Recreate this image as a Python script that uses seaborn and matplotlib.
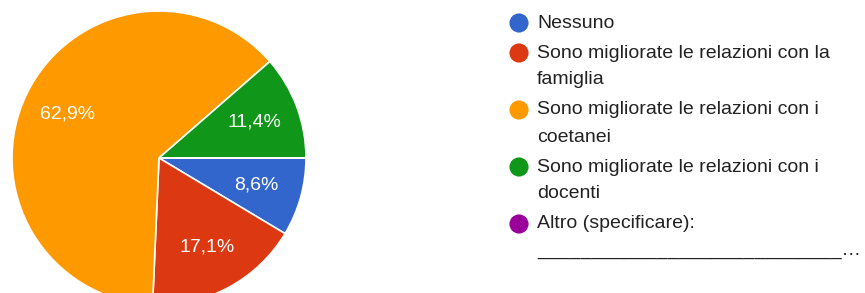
import matplotlib
matplotlib.use("Agg")
import matplotlib.pyplot as plt
import seaborn as sns

categories = [
    "Nessuno",
    "Sono migliorate le relazioni con la\nfamiglia",
    "Sono migliorate le relazioni con i\ncoetanei",
    "Sono migliorate le relazioni con i\ndocenti",
    "Altro (specificare):\n____________________________\u2026",
]
values = [8.6, 17.1, 62.9, 11.4, 0.0]
colors = ["#3366CC", "#DC3912", "#FF9900", "#109618", "#990099"]

sns.set_theme(style="white")
plt.rcParams["font.family"] = ["Liberation Sans", "DejaVu Sans"]

W, H = 865, 293
fig = plt.figure(figsize=(W / 100, H / 100), dpi=100)
ax = fig.add_axes([0, 0, 1, 1])

def fmt(p):
    return "" if p < 0.05 else f"{p:.1f}".replace(".", ",") + "%"

wedges, texts, autotexts = ax.pie(
    values, colors=colors, startangle=0, counterclock=False,
    center=(159, H - 158), radius=147, autopct=fmt, pctdistance=0.69,
    wedgeprops=dict(edgecolor="white", linewidth=1.2),
    textprops=dict(color="white", fontsize=14), frame=False,
)
ax.set_xlim(0, W)
ax.set_ylim(0, H)
ax.set_aspect("equal")
ax.axis("off")

# legend (manual, first-line aligned markers)
y = 23
for lab, col in zip(categories, colors):
    lines = lab.split("\n")
    ax.scatter([519], [H - y], s=190, color=col, edgecolor="none", zorder=5, clip_on=False)
    for i, ln in enumerate(lines):
        ax.text(537, H - (y + 27 * i), ln, fontsize=14, color="#222222",
                va="center", ha="left")
    y += 27 * (len(lines) - 1) + 30

fig.savefig("out.png", dpi=100)
